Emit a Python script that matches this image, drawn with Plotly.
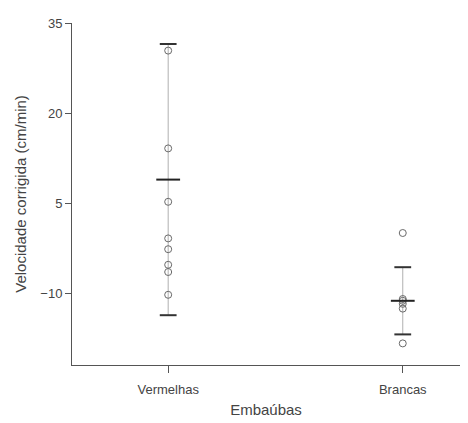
import plotly.graph_objects as go

categories = ["Vermelhas", "Brancas"]
cat_pos = [0, 1]
vermelhas_pts = [30.4, 14.1, 5.2, -0.9, -2.7, -5.3, -6.5, -10.3]
brancas_pts = [0.0, -11.0, -11.3, -11.8, -12.6, -18.4]
centers = [8.9, -11.3]
errors = [22.6, 5.6]
y_ticks = [-10, 5, 20, 35]

fig = go.Figure()

# vertical error lines
fig.add_trace(go.Scatter(
    x=cat_pos, y=centers, mode="markers",
    marker=dict(size=0.1, color="rgba(0,0,0,0)"),
    error_y=dict(type="data", array=errors, visible=True, color="#b0b0b0", thickness=1, width=0),
    hoverinfo="skip", showlegend=False))

# points
fig.add_trace(go.Scatter(
    x=[cat_pos[0]] * len(vermelhas_pts) + [cat_pos[1]] * len(brancas_pts),
    y=vermelhas_pts + brancas_pts, mode="markers",
    marker=dict(symbol="circle-open", size=7, color="#6a6a6a", line=dict(width=1)),
    showlegend=False))

# caps
fig.add_trace(go.Scatter(
    x=cat_pos + cat_pos,
    y=[c + e for c, e in zip(centers, errors)] + [c - e for c, e in zip(centers, errors)],
    mode="markers",
    marker=dict(symbol="line-ew", size=12, line=dict(color="#333333", width=2)),
    showlegend=False))

# centers
fig.add_trace(go.Scatter(
    x=cat_pos, y=centers, mode="markers",
    marker=dict(symbol="line-ew", size=17, line=dict(color="#222222", width=2)),
    showlegend=False))

fig.update_layout(
    width=460, height=415,
    margin=dict(l=64, r=8, t=10, b=58),
    paper_bgcolor="white", plot_bgcolor="white",
    font=dict(family="Liberation Sans, Arial, sans-serif", color="#444444", size=13),
    xaxis=dict(
        range=[-0.41, 1.244], tickmode="array", tickvals=cat_pos, ticktext=categories,
        showgrid=False, zeroline=False, showline=True, linecolor="#555555", linewidth=1,
        ticks="outside", ticklen=7, tickcolor="#555555", ticklabelstandoff=5,
        title=dict(text="Embaúbas", font=dict(size=15, color="#444444"), standoff=8)),
    yaxis=dict(
        range=[-22, 35], tickmode="array", tickvals=y_ticks,
        showgrid=False, zeroline=False, showline=True, linecolor="#555555", linewidth=1,
        ticks="outside", ticklen=6, tickcolor="#555555",
        title=dict(text="Velocidade corrigida (cm/min)", font=dict(size=15, color="#444444"), standoff=10)),
)

fig.write_html("out.html")
